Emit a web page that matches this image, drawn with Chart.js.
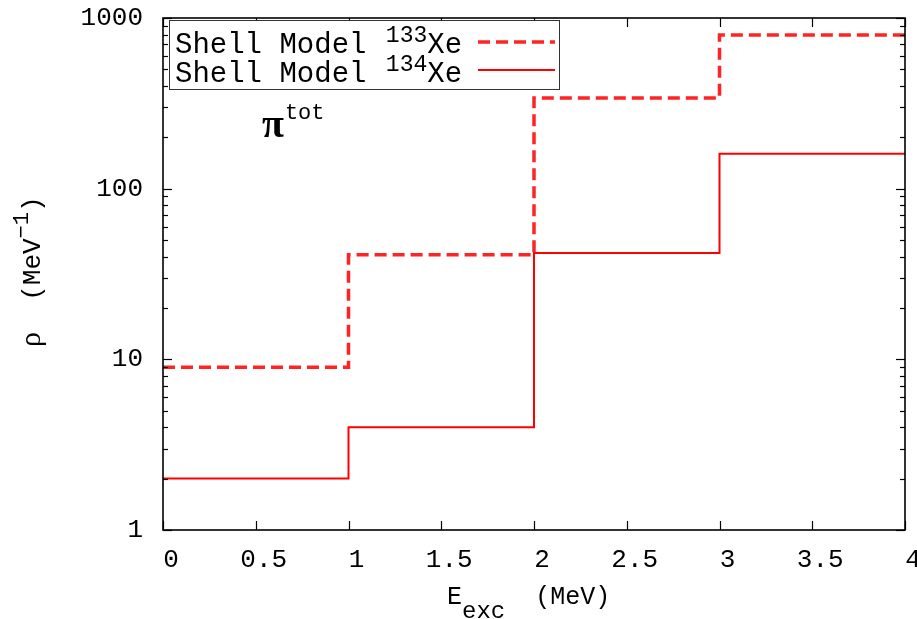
<!DOCTYPE html>
<html>
<head>
<meta charset="utf-8">
<script src="https://cdn.jsdelivr.net/npm/chart.js@4.4.1/dist/chart.umd.min.js"></script>
<style>
  html, body { margin: 0; padding: 0; background: #fff; }
  #c { display: block; }
</style>
</head>
<body>
<canvas id="c" width="917" height="619"></canvas>
<script>
// ---- data ----
const energyEdges = [0, 1, 2, 3, 4];              // bin edges, MeV
const xe133Density = [9, 41, 340, 795];           // Shell Model 133Xe, MeV^-1
const xe134Density = [2, 4, 42, 160];             // Shell Model 134Xe, MeV^-1
const xTickValues = [0, 0.5, 1, 1.5, 2, 2.5, 3, 3.5, 4];
const yMajorTicks = [1, 10, 100, 1000];
const yMinorMultipliers = [2, 3, 4, 5, 6, 7, 8, 9];
const seriesLabels = ['133', '134'];

function stepPoints(vals) {
  return energyEdges.map((e, i) => ({ x: e, y: vals[Math.min(i, vals.length - 1)] }));
}

const MONO = '"Liberation Mono", "DejaVu Sans Mono", monospace';
const RED = 'rgb(255,0,0)';
const RED_DASH = 'rgb(255,35,35)';

function drawRich(ctx, parts, x, y) {
  let cx = x;
  for (const p of parts) {
    ctx.font = p.font;
    ctx.fillText(p.t, cx, y + (p.dy || 0));
    cx += ctx.measureText(p.t).width + (p.gap || 0);
  }
  return cx;
}

const overlay = {
  id: 'overlay',
  afterDraw(chart) {
    const { ctx, chartArea: a, scales: { x, y } } = chart;
    ctx.save();
    ctx.strokeStyle = '#000';
    ctx.lineWidth = 1.2;
    const seg = (x1, y1, x2, y2) => { ctx.beginPath(); ctx.moveTo(x1, y1); ctx.lineTo(x2, y2); ctx.stroke(); };
    // x ticks (bottom & top, inward)
    xTickValues.forEach(v => {
      const px = Math.round(x.getPixelForValue(v)) + 0.5;
      seg(px, a.bottom, px, a.bottom - 9);
      seg(px, a.top, px, a.top + 9);
    });
    // y ticks major & minor (left & right, inward)
    yMajorTicks.forEach((m, i) => {
      const py = Math.round(y.getPixelForValue(m)) + 0.5;
      seg(a.left, py, a.left + 9, py);
      seg(a.right, py, a.right - 9, py);
      if (i < yMajorTicks.length - 1) {
        yMinorMultipliers.forEach(k => {
          const q = Math.round(y.getPixelForValue(m * k)) + 0.5;
          seg(a.left, q, a.left + 5, q);
          seg(a.right, q, a.right - 5, q);
        });
      }
    });
    // frame
    ctx.lineWidth = 1.6;
    ctx.strokeRect(a.left, a.top, a.right - a.left, a.bottom - a.top);

    // legend box
    const lx = a.left + 6, ly = a.top + 2, lw = 390, lh = 69;
    ctx.fillStyle = '#fff';
    ctx.fillRect(lx, ly, lw, lh);
    ctx.strokeStyle = '#333';
    ctx.lineWidth = 1;
    ctx.strokeRect(lx + 0.5, ly + 0.5, lw, lh);
    ctx.fillStyle = '#000';
    ctx.textBaseline = 'alphabetic';
    ctx.textAlign = 'left';
    const rows = [ly + 33, ly + 62];
    seriesLabels.forEach((lab, i) => {
      drawRich(ctx, [
        { t: 'Shell Model ', font: '29px ' + MONO, gap: 2 },
        { t: lab, font: '23px ' + MONO, dy: -11 },
        { t: 'Xe', font: '29px ' + MONO }
      ], lx + 6, rows[i]);
    });
    // legend samples
    ctx.strokeStyle = RED_DASH;
    ctx.lineWidth = 3.5;
    ctx.setLineDash([12, 6]);
    seg(lx + 309, ly + 22, lx + 386, ly + 22);
    ctx.setLineDash([]);
    ctx.strokeStyle = RED;
    ctx.lineWidth = 2;
    seg(lx + 309, ly + 50, lx + 386, ly + 50);

    // pi^tot annotation
    ctx.fillStyle = '#000';
    ctx.font = 'bold 40px "Liberation Serif", serif';
    ctx.fillText('\u03C0', 262, 137);
    let w = ctx.measureText('\u03C0').width;
    ctx.font = '22px ' + MONO;
    ctx.fillText('tot', 262 + w + 1, 119);

    // x title
    drawRich(ctx, [
      { t: 'E', font: '25px ' + MONO },
      { t: 'exc', font: '24px ' + MONO, dy: 14 },
      { t: '  (MeV)', font: '25px ' + MONO }
    ], 447, 604);

    // y title rotated
    ctx.save();
    ctx.translate(40, 347);
    ctx.rotate(-Math.PI / 2);
    drawRich(ctx, [
      { t: '\u03C1', font: '30px "Liberation Serif", serif' },
      { t: '  (MeV', font: '26px ' + MONO },
      { t: '\u22121', font: '22px ' + MONO, dy: -12 },
      { t: ')', font: '26px ' + MONO }
    ], 0, 0);
    ctx.restore();

    ctx.restore();
  }
};

new Chart(document.getElementById('c'), {
  type: 'line',
  data: {
    datasets: [
      {
        label: 'Shell Model 133Xe',
        data: stepPoints(xe133Density),
        stepped: 'before',
        borderColor: RED_DASH,
        borderWidth: 3.5,
        borderDash: [12, 6],
        pointRadius: 0,
        fill: false
      },
      {
        label: 'Shell Model 134Xe',
        data: stepPoints(xe134Density),
        stepped: 'before',
        borderColor: RED,
        borderWidth: 2,
        pointRadius: 0,
        fill: false
      }
    ]
  },
  options: {
    responsive: false,
    animation: false,
    devicePixelRatio: 1,
    layout: { padding: { top: 18, right: 12, left: 0, bottom: 0 } },
    plugins: { legend: { display: false }, tooltip: { enabled: false } },
    scales: {
      x: {
        type: 'linear', min: 0, max: 4,
        afterBuildTicks: s => { s.ticks = xTickValues.map(v => ({ value: v })); },
        afterFit: s => { s.height = 89; s.paddingLeft = 0; s.paddingRight = 0; s.paddingTop = 0; s.paddingBottom = 0; },
        grid: { display: false, drawTicks: false },
        border: { display: false },
        ticks: { color: '#000', padding: 15, maxRotation: 0, autoSkip: false, labelOffset: 8,
                 font: { family: MONO, size: 26 }, callback: v => String(v) }
      },
      y: {
        type: 'logarithmic', min: 1, max: 1000,
        afterBuildTicks: s => { s.ticks = yMajorTicks.map(v => ({ value: v })); },
        afterFit: s => { s.width = 163; s.paddingTop = 0; s.paddingBottom = 0; s.paddingLeft = 0; s.paddingRight = 0; },
        grid: { display: false, drawTicks: false },
        border: { display: false },
        ticks: { color: '#000', padding: 20, autoSkip: false,
                 font: { family: MONO, size: 26 }, callback: v => String(v) }
      }
    }
  },
  plugins: [overlay]
});
</script>
</body>
</html>
